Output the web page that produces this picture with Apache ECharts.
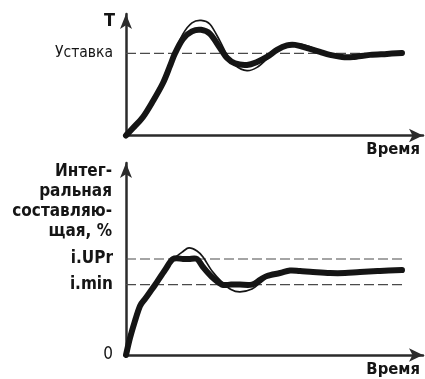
<!DOCTYPE html>
<html>
<head>
<meta charset="utf-8">
<script src="https://cdn.jsdelivr.net/npm/echarts@6/dist/echarts.min.js"></script>
<style>
  html, body { margin: 0; padding: 0; background: #fff; }
  #chart { width: 425px; height: 379px; }
</style>
</head>
<body>
<div id="chart"></div>
<script>
// Temperature response: time (arbitrary units) and T in % of the setpoint
const tempTime = [0, 2.33, 5.67, 9, 12.33, 14.67, 16.33, 19, 22, 25, 28, 31.33, 33.67, 36.33, 40.33,
  43.67, 47, 50.33, 53.67, 56.33, 59, 61.33, 64.67, 68, 72, 75.67, 81.33, 87, 92];
// Heavy curve
const tempMain = [0, 9.1, 22.6, 42.1, 64, 84.8, 100, 117.7, 126.8, 128.7, 123.8, 106.7, 94.5, 87.8, 86,
  89.6, 95.7, 104.3, 109.8, 110.4, 107.9, 105.5, 101.8, 98.2, 95.7, 95.7, 98.2, 99.4, 100.6];
// Thin curve (larger overshoot)
const tempAlt = [0, 9.1, 22.6, 42.1, 64, 85, 101.8, 123.8, 137.2, 140.2, 135.5, 115, 98, 85.6, 79,
  83, 93.3, 104.3, 110, 111.6, 110.7, 107.9, 103, 98.2, 95.7, 95.7, 98.2, 99.4, 100.6];
const setpointLevels = [100];
const setpointLabels = ['Уставка'];

// Integral component, % : time and values
const integTime = [0, 1.33, 3, 4.67, 6.33, 8, 9.67, 13, 15.67, 19, 21, 23.67, 25.67, 28.67, 32, 35, 38,
  42, 44.67, 47, 51.33, 54.67, 58, 62.33, 68, 73, 78, 84.67, 92];
const integMain = [0, 10.6, 21.3, 30.6, 35, 39.4, 43.75, 53.1, 60, 60, 60, 60, 55, 48.75, 44, 44, 44,
  44, 46.9, 49.4, 51.25, 52.8, 52.5, 51.9, 51.25, 51.25, 51.9, 52.5, 53.1];
const integAlt = [0, 10.6, 21.3, 30.6, 35, 39.4, 43.75, 53.1, 59.7, 64.7, 66.9, 65, 61.25, 52.5, 45.6, 40.9, 39.4,
  41.25, 45, 48.4, 51.25, 52.8, 52.5, 51.9, 51.25, 51.25, 51.9, 52.5, 53.1];
const integLevels = [0, 44, 60];
const integLabels = ['0', 'i.min', 'i.UPr'];
const integDashed = [44, 60];

const tempAxisName = 'T';
const integAxisName = 'Интег-\nральная\nсоставляю-\nщая, %';
const timeAxisName = 'Время';

const FONT = '"DejaVu Sans Condensed", "Liberation Sans", sans-serif';
const INK = '#151515';
const AXIS = '#2b2b2b';

const pairs = (xs, ys) => xs.map((x, i) => [x, ys[i]]);
const endTime = tempTime[tempTime.length - 1];
const endTimeI = integTime[integTime.length - 1];

// Smooth curve through all points (Catmull-Rom converted to cubic Bezier),
// positioned with the grid's own axes via api.coord.
function smoothCurve(gridIndex, points, width) {
  return {
    type: 'custom',
    xAxisIndex: gridIndex,
    yAxisIndex: gridIndex,
    data: points,
    encode: { x: 0, y: 1 },
    silent: true,
    renderItem: (params, api) => {
      if (params.dataIndex !== 0) return null;
      const p = points.map(d => api.coord(d));
      const n = p.length;
      let d = 'M' + p[0][0] + ' ' + p[0][1];
      for (let i = 0; i < n - 1; i++) {
        const p0 = p[Math.max(i - 1, 0)], p1 = p[i], p2 = p[i + 1], p3 = p[Math.min(i + 2, n - 1)];
        const c1x = p1[0] + (p2[0] - p0[0]) / 6, c1y = p1[1] + (p2[1] - p0[1]) / 6;
        const c2x = p2[0] - (p3[0] - p1[0]) / 6, c2y = p2[1] - (p3[1] - p1[1]) / 6;
        d += ' C' + c1x + ' ' + c1y + ' ' + c2x + ' ' + c2y + ' ' + p2[0] + ' ' + p2[1];
      }
      return {
        type: 'path',
        shape: { pathData: d },
        style: { fill: null, stroke: INK, lineWidth: width, lineCap: 'round', lineJoin: 'round' }
      };
    }
  };
}

function dashedLevel(gridIndex, level, tEnd) {
  return {
    type: 'line',
    xAxisIndex: gridIndex,
    yAxisIndex: gridIndex,
    data: [[0, level], [tEnd, level]],
    showSymbol: false,
    silent: true,
    z: 1,
    lineStyle: { color: '#4a4a4a', width: 1.2, type: [10, 4] }
  };
}

const axisLineStyle = (size) => ({
  show: true,
  onZero: false,
  symbol: ['none', 'arrow'],
  symbolSize: size,
  symbolOffset: [0, 0],
  lineStyle: { color: AXIS, width: 2.5 }
});

const xAxisCommon = (gridIndex) => ({
  type: 'value',
  gridIndex,
  min: 0,
  max: 99,
  name: timeAxisName,
  nameLocation: 'end',
  nameGap: -3,
  nameTextStyle: {
    fontFamily: FONT, fontSize: 16.5, fontWeight: 'bold', color: INK,
    align: 'right', verticalAlign: 'top', padding: [6, 0, 0, 0]
  },
  axisLine: axisLineStyle([10, 14]),
  axisTick: { show: false },
  axisLabel: { show: false },
  splitLine: { show: false }
});

const option = {
  animation: false,
  backgroundColor: '#fff',
  grid: [
    { left: 126, top: 14, width: 297, height: 121.5 },
    { left: 126, top: 163, width: 297, height: 192 }
  ],
  xAxis: [xAxisCommon(0), xAxisCommon(1)],
  yAxis: [
    {
      type: 'value', gridIndex: 0, min: 0, max: 148,
      name: tempAxisName,
      nameLocation: 'end',
      nameGap: -7,
      nameTextStyle: {
        fontFamily: FONT, fontSize: 18, fontWeight: 'bold', color: INK,
        align: 'right', verticalAlign: 'middle', padding: [0, 11, 0, 0]
      },
      axisLine: axisLineStyle([9, 15]),
      axisTick: { show: false },
      splitLine: { show: false },
      axisLabel: {
        customValues: setpointLevels,
        margin: 13,
        fontFamily: FONT, fontSize: 15.5, color: INK,
        formatter: v => setpointLabels[setpointLevels.indexOf(v)] || ''
      }
    },
    {
      type: 'value', gridIndex: 1, min: 0, max: 120,
      name: integAxisName,
      nameLocation: 'end',
      nameGap: 1,
      nameTextStyle: {
        fontFamily: FONT, fontSize: 17, fontWeight: 'bold', color: INK,
        align: 'right', verticalAlign: 'top', lineHeight: 20, padding: [0, 14, 0, 0]
      },
      axisLine: axisLineStyle([9, 15]),
      axisTick: { show: false },
      splitLine: { show: false },
      axisLabel: {
        customValues: integLevels,
        margin: 13,
        fontFamily: FONT, fontSize: 17, color: INK,
        formatter: v => {
          const t = integLabels[integLevels.indexOf(v)] || '';
          return v === 0 ? '{n|' + t + '}' : '{b|' + t + '}';
        },
        rich: {
          n: { fontFamily: FONT, fontSize: 17, color: INK },
          b: { fontFamily: FONT, fontSize: 17, fontWeight: 'bold', color: INK }
        }
      }
    }
  ],
  series: [
    ...setpointLevels.map(v => dashedLevel(0, v, endTime)),
    ...integDashed.map(v => dashedLevel(1, v, endTimeI)),
    smoothCurve(0, pairs(tempTime, tempMain), 6),
    smoothCurve(0, pairs(tempTime, tempAlt), 1.7),
    smoothCurve(1, pairs(integTime, integMain), 6),
    smoothCurve(1, pairs(integTime, integAlt), 1.7)
  ]
};

const chart = echarts.init(document.getElementById('chart'), null, { renderer: 'canvas' });
chart.setOption(option);
</script>
</body>
</html>
